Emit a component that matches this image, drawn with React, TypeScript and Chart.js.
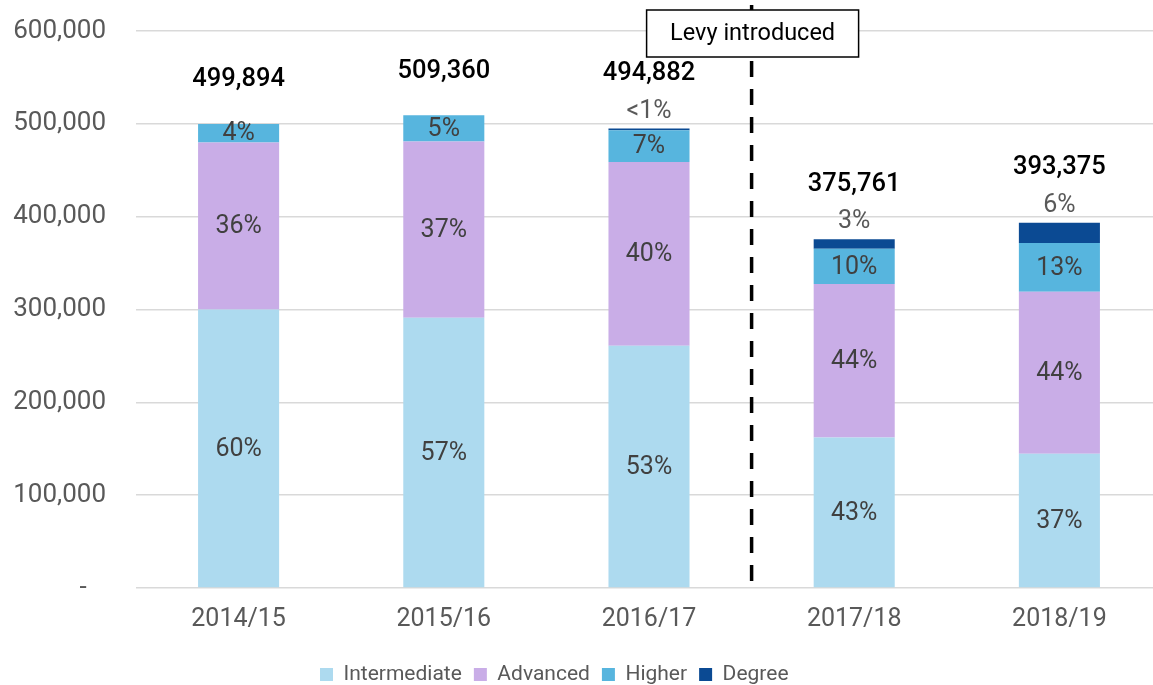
import React, { useEffect, useRef } from 'react';
import { Chart, registerables } from 'chart.js';

Chart.register(...registerables);

// ---- Data ----
const categories = ['2014/15', '2015/16', '2016/17', '2017/18', '2018/19'];
const seriesNames = ['Intermediate', 'Advanced', 'Higher', 'Degree'];
const intermediate = [299900, 291000, 261000, 162000, 144500];
const advanced = [180000, 190000, 198000, 165500, 174500];
const higher = [19994, 28360, 34000, 38000, 52500];
const degree = [0, 0, 1882, 10261, 21875];
const totals = ['499,894', '509,360', '494,882', '375,761', '393,375'];
const intermediatePct = ['60%', '57%', '53%', '43%', '37%'];
const advancedPct = ['36%', '37%', '40%', '44%', '44%'];
const higherPct = ['4%', '5%', '7%', '10%', '13%'];
const degreePct = ['', '', '<1%', '3%', '6%'];
const yTicks = [0, 100000, 200000, 300000, 400000, 500000, 600000];
const levyBetween = ['2016/17', '2017/18'];
const levyText = 'Levy introduced';

const colors = ['#ADDAEF', '#C9ADE7', '#57B5DE', '#0B4A93'];
const FONT = 'Roboto, "Open Sans", sans-serif';
const W = 1165;
const H = 685;
const LEGEND_LEFT = 308;

const labelPlugin = {
  id: 'segLabels',
  afterDatasetsDraw(chart: any) {
    const ctx = chart.ctx;
    const pctSets = [intermediatePct, advancedPct, higherPct, degreePct];
    ctx.save();
    ctx.textAlign = 'center';
    ctx.textBaseline = 'middle';
    pctSets.forEach((labels, di) => {
      const meta = chart.getDatasetMeta(di);
      meta.data.forEach((bar: any, i: number) => {
        const txt = labels[i];
        if (!txt) return;
        const p = bar.getProps(['x', 'y', 'base'], true);
        ctx.font = `400 25px ${FONT}`;
        if (di === 3) {
          ctx.fillStyle = '#595959';
          ctx.fillText(txt, p.x, p.y - 17);
        } else {
          ctx.fillStyle = '#404040';
          ctx.fillText(txt, p.x, (p.y + p.base) / 2 + 1);
        }
      });
    });
    const topMeta = chart.getDatasetMeta(3);
    topMeta.data.forEach((bar: any, i: number) => {
      const p = bar.getProps(['x', 'y'], true);
      const y = degreePct[i] ? p.y - 17 - 38 : p.y - 44;
      ctx.font = `500 25.5px ${FONT}`;
      ctx.fillStyle = '#000000';
      ctx.fillText(totals[i], p.x, y);
    });
    ctx.restore();
  },
};

const levyPlugin = {
  id: 'levy',
  afterLayout(chart: any) {
    if (chart.legend) {
      const w = chart.legend.right - chart.legend.left;
      chart.legend.left = LEGEND_LEFT;
      chart.legend.right = LEGEND_LEFT + w;
    }
  },
  afterDraw(chart: any) {
    const ctx = chart.ctx;
    const xs = chart.scales.x;
    const { top, bottom } = chart.chartArea;
    const x =
      (xs.getPixelForValue(categories.indexOf(levyBetween[0])) +
        xs.getPixelForValue(categories.indexOf(levyBetween[1]))) /
      2;
    ctx.save();
    ctx.strokeStyle = '#000';
    ctx.lineWidth = 3.5;
    ctx.setLineDash([16, 12]);
    ctx.beginPath();
    ctx.moveTo(x, top - 26);
    ctx.lineTo(x, bottom);
    ctx.stroke();
    ctx.setLineDash([]);
    const bw = 212;
    const bh = 47;
    const bx = x - bw / 2 + 1;
    const by = top - 21;
    ctx.fillStyle = '#fff';
    ctx.fillRect(bx, by, bw, bh);
    ctx.lineWidth = 1.5;
    ctx.strokeRect(bx, by, bw, bh);
    ctx.fillStyle = '#000';
    ctx.font = `400 23.5px ${FONT}`;
    ctx.textAlign = 'center';
    ctx.textBaseline = 'middle';
    ctx.fillText(levyText, bx + bw / 2, by + bh / 2 + 1);
    ctx.restore();
  },
};

export default function App() {
  const ref = useRef<HTMLCanvasElement>(null);
  useEffect(() => {
    const seriesData = [intermediate, advanced, higher, degree];
    const chart = new Chart(ref.current as HTMLCanvasElement, {
      type: 'bar',
      data: {
        labels: categories,
        datasets: seriesNames.map((name, i) => ({
          label: name,
          data: seriesData[i],
          backgroundColor: colors[i],
          borderWidth: 0,
          categoryPercentage: 1,
          barPercentage: 0.395,
        })),
      },
      options: {
        responsive: false,
        animation: false,
        devicePixelRatio: 1,
        layout: { padding: { top: 31, right: 3, left: 0, bottom: -10 } },
        plugins: {
          tooltip: { enabled: false },
          legend: {
            position: 'bottom',
            align: 'start',
            labels: {
              boxWidth: 13,
              boxHeight: 13,
              padding: 12,
              color: '#595959',
              font: { family: FONT, size: 21 },
            },
          },
        },
        scales: {
          x: {
            stacked: true,
            grid: { display: false },
            border: { display: false },
            ticks: {
              color: '#595959',
              font: { family: FONT, size: 25 },
              padding: 9,
            },
            afterFit(scale: any) {
              scale.height = 64;
            },
          },
          y: {
            stacked: true,
            min: 0,
            max: 600000,
            afterBuildTicks(scale: any) {
              scale.ticks = yTicks.map((v) => ({ value: v }));
            },
            ticks: {
              color: '#595959',
              font: { family: FONT, size: 26 },
              padding: 30,
              callback: (v: any) =>
                Number(v) === 0 ? '-   ' : Number(v).toLocaleString('en-US'),
            },
            grid: {
              color: '#D9D9D9',
              lineWidth: 1.5,
              drawTicks: false,
            },
            border: { display: false },
            afterFit(scale: any) {
              scale.width = 136;
              scale.paddingTop = 0;
              scale.paddingBottom = 0;
            },
          },
        },
      },
      plugins: [labelPlugin, levyPlugin],
    } as any);
    return () => chart.destroy();
  }, []);
  return (
    <div
      style={{
        position: 'fixed',
        left: 0,
        top: 0,
        width: 1153,
        height: 685,
        overflow: 'hidden',
        background: '#fff',
      }}
    >
      <canvas ref={ref} width={W} height={H} style={{ display: 'block', width: W, height: H }} />
    </div>
  );
}
